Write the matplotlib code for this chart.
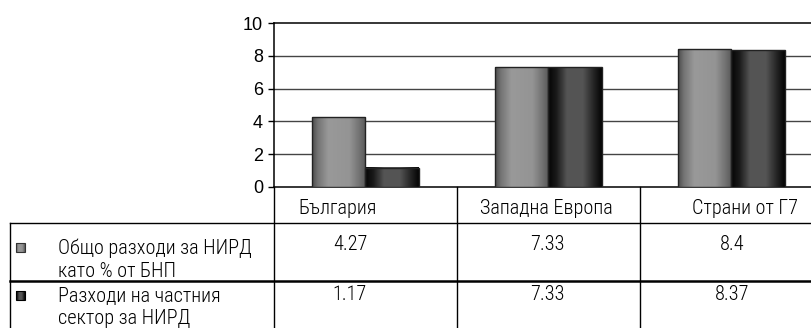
import numpy as np
import matplotlib
matplotlib.use("Agg")
from matplotlib import pyplot as plt
from matplotlib import font_manager

# --- data ---
categories = ["България", "Западна Европа", "Страни от Г7"]
series_names = ["Общо разходи за НИРД\nкато % от БНП",
                "Разходи на частния\nсектор за НИРД"]
total_rd = [4.27, 7.33, 8.4]
private_rd = [1.17, 7.33, 8.37]
y_ticks = [0, 2, 4, 6, 8, 10]

W, H = 812, 328


def pick_narrow():
    fonts = font_manager.fontManager.ttflist
    names = {f.name for f in fonts}
    for cand in ["Liberation Sans Narrow", "Roboto Condensed",
                 "Open Sans Condensed", "Arial Narrow"]:
        if cand in names:
            return dict(family=cand, fontweight="light"), 14.6
    if any(f.name == "DejaVu Sans" and f.stretch == "condensed" for f in fonts):
        return dict(family="DejaVu Sans", fontstretch="condensed"), 12.5
    return dict(family="Liberation Sans"), 13


narrow, tsize = pick_narrow()
regular = dict(family="Liberation Sans")


def shade(stops, n=64):
    # horizontal gray ramp for the cylinder look
    pos, val = zip(*stops)
    g = np.interp(np.linspace(0, 1, n), pos, val)
    return np.stack([g, g, g], axis=-1)[None, :, :]


grad_total = shade([(0, 0.30), (0.1, 0.45), (0.3, 0.60), (0.7, 0.58),
                    (0.88, 0.45), (1, 0.35)])
grad_private = shade([(0, 0.02), (0.15, 0.10), (0.35, 0.33), (0.65, 0.33),
                      (0.88, 0.12), (1, 0.02)])

fig = plt.figure(figsize=(W / 100, H / 100), dpi=100)

# chart area in pixels: left 274, top 23.3, bottom 186.7, right beyond the edge
x0, x1, ytop, ybot = 274, 823, 23.3, 186.7
ax = fig.add_axes([x0 / W, 1 - ybot / H, (x1 - x0) / W, (ybot - ytop) / H])
ax.set_yticks(y_ticks)
ax.set_yticklabels([str(t) for t in y_ticks], fontsize=13, **regular)
ax.tick_params(axis="y", length=4.5, width=1, pad=3.5, color="black")
ax.set_xticks([])
ax.spines["right"].set_visible(False)
for s in ["top", "left", "bottom"]:
    ax.spines[s].set_linewidth(1.1)
for t in y_ticks[1:-1]:
    ax.axhline(t, color="#444444", lw=1.0, zorder=1)

xs = np.arange(len(categories))
width = 0.29
for vals, off, grad in [(total_rd, -width / 2, grad_total),
                        (private_rd, width / 2, grad_private)]:
    bars = ax.bar(xs + off, vals, width, facecolor="none",
                  edgecolor="#222222", linewidth=1.0, zorder=4)
    for b in bars:
        bx, bw, bh = b.get_x(), b.get_width(), b.get_height()
        ax.imshow(grad, extent=(bx, bx + bw, 0, bh), aspect="auto",
                  interpolation="bilinear", zorder=3)
ax.set_xlim(-0.5, len(categories) - 0.5)
ax.set_ylim(0, 10)

# data table below the chart, drawn in pixel coordinates
tab = fig.add_axes([0, 0, 1, 1], zorder=5)
tab.axis("off")
tab.patch.set_alpha(0)

fig.canvas.draw()
bounds = [ax.transData.transform((i - 0.5, 0))[0] for i in range(len(categories) + 1)]
for bx in bounds[:-1]:
    tab.plot([bx, bx], [ybot, H + 2], color="black", lw=1.0)
tab.plot([10, 10], [223, H + 2], color="black", lw=1.0)
tab.plot([10, W], [223, 223], color="black", lw=1.0)
tab.plot([10, W], [281, 281], color="black", lw=1.8)

head_x = [338, 546, 745]
val_x = [350, 547, 732]
for cx, name in zip(head_x, categories):
    tab.text(cx, 208, name, ha="center", va="center", fontsize=tsize, **narrow)
for row_y, vals in [(245, total_rd), (295, private_rd)]:
    for cx, v in zip(val_x, vals):
        tab.text(cx, row_y, f"{v:g}", ha="center", va="center",
                 fontsize=tsize, **narrow)

for row_y, label, grad, edge in [(247, series_names[0], grad_total, "#333333"),
                                 (295, series_names[1], grad_private, "#000000")]:
    tab.imshow(grad, extent=(16, 25, row_y + 5, row_y - 4), aspect="auto",
               interpolation="bilinear", zorder=2)
    tab.add_patch(plt.Rectangle((16, row_y - 4), 9, 9, fill=False,
                                edgecolor=edge, lw=0.8, zorder=3))
    tab.text(58, row_y - 9, label, ha="left", va="top", fontsize=tsize,
             linespacing=1.3, **narrow)
tab.set_xlim(0, W)
tab.set_ylim(H, 0)

fig.savefig("out.png", dpi=100)
